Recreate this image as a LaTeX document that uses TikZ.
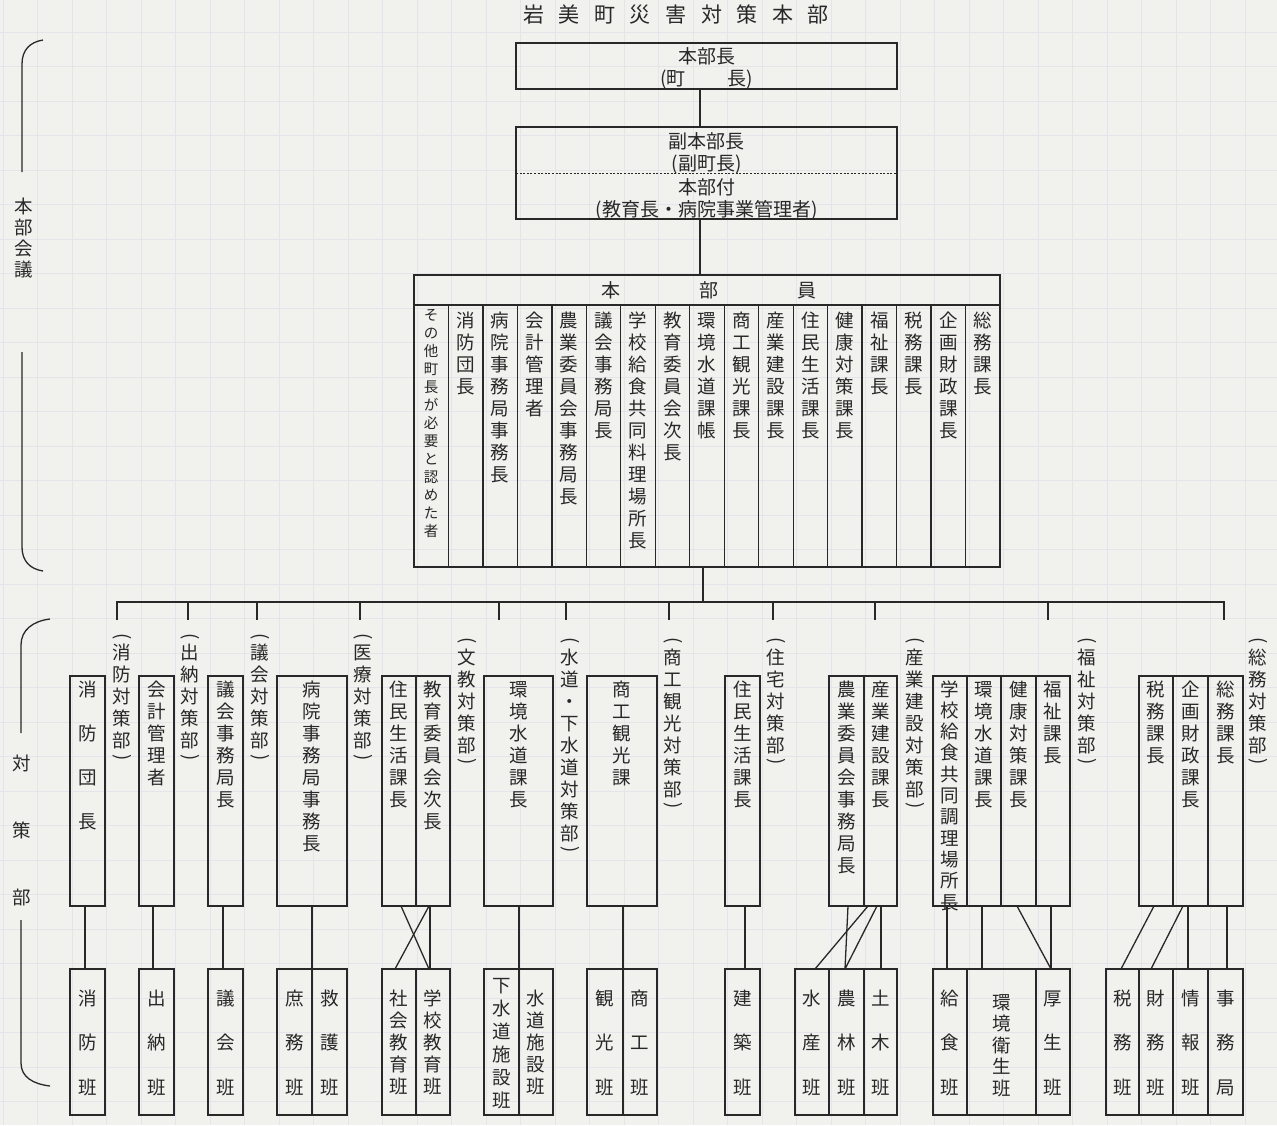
\documentclass[tikz,border=0pt]{standalone}
\usepackage{fontspec}
\usepackage{graphicx}
\setmainfont{Noto Sans CJK JP}
\usetikzlibrary{calc}
\definecolor{ink}{RGB}{40,40,40}
\definecolor{paper}{RGB}{241,241,238}
\definecolor{gridc}{RGB}{226,229,233}

\newdimen\vtpitch
\newcommand\vt[2]{\vtpitch=#1\relax\vbox{\offinterlineskip\expandafter\vtaux#2\relax}}
\def\vtaux#1{\ifx\relax#1\else\vtcell{#1}\expandafter\vtaux\fi}
\def\vtfull{\ht0=\dimexpr0.5\vtpitch+0.38em\relax\dp0=\dimexpr0.5\vtpitch-0.38em\relax}
\def\vtpar{\ht0=\dimexpr0.25\vtpitch+0.33em\relax\dp0=\dimexpr0.25\vtpitch-0.33em\relax}
\def\vtcell#1{%
  \ifx#1(\setbox0=\hbox to 1em{\hss\rotatebox[origin=c]{-90}{(}\hss}\vtpar
  \else\ifx#1)\setbox0=\hbox to 1em{\hss\rotatebox[origin=c]{-90}{)}\hss}\vtpar
  \else\setbox0=\hbox to 1em{\hss#1\hss}\vtfull\fi\fi\box0 }

\tikzset{
  conn/.style={draw=ink, line width=1.3pt},
  cbox/.style={draw=ink, line width=1.3pt, inner sep=0pt, outer sep=0pt, anchor=north west, rectangle},
  vlab/.style={anchor=north, inner sep=0pt, outer sep=0pt, text=ink, font=\fontsize{18.5}{22}\selectfont},
  htxt/.style={text=ink, font=\fontsize{19}{22}\selectfont, align=center, inner sep=0pt},
}
% name, x, y, w, h, first-centre offset, pitch, text
\newcommand\cb[8]{%
  \node[cbox, minimum width=#4pt, minimum height=#5pt] (#1) at (#2,#3) {};
  \node[vlab] (#1t) at ($(#1.north)+(0,{#6-#7/2})$) {\vt{#7pt}{#8}};}
\newcommand\tg{\hspace{14.6pt}}

\begin{document}
\begin{tikzpicture}[x=1pt,y=-1pt]
\useasboundingbox (0,0) rectangle (1277,1125);
\fill[paper] (0,0) rectangle (1277,1125);
\foreach \gx in {3,37.5,...,1277} \draw[gridc, line width=0.6pt] (\gx,0) -- (\gx,1125);
\foreach \gy in {32,66.5,...,1125} \draw[gridc, line width=0.6pt] (0,\gy) -- (1277,\gy);

% title
\node[htxt, font=\fontsize{21}{25}\selectfont] (title) at (676,15) {岩\tg{}美\tg{}町\tg{}災\tg{}害\tg{}対\tg{}策\tg{}本\tg{}部};

% top boxes
\node[cbox, minimum width=381pt, minimum height=46pt] (hq) at (516,43) {};
\node[htxt] (hqt) at ($(hq.center)+(0,2)$) {本部長\\(町\hspace{2.2em}長)};
\node[cbox, minimum width=381pt, minimum height=92pt] (dep) at (516,127) {};
\draw[draw=ink, line width=0.8pt, dash pattern=on 2pt off 1.6pt] (dep.west) -- (dep.east);
\node[htxt] (depa) at ($(dep.north)+(0,26)$) {副本部長\\(副町長)};
\node[htxt] (depb) at ($(dep.south)+(0,-19.5)$) {本部付\\(教育長・病院事業管理者)};

% members
\node[cbox, minimum width=586pt, minimum height=30pt] (memh) at (414,275) {};
\node[htxt] (memht) at ($(memh.center)+(1.5,0)$) {本\hspace{79pt}部\hspace{79pt}員};
\node[cbox, minimum width=34.47pt, minimum height=262pt] (m1) at (414,305) {};
\node[vlab, font=\fontsize{14.5}{18}\selectfont] (m1t) at ($(m1.north)+(0,1)$) {\vt{18pt}{その他町長が必要と認めた者}};
\cb{m2}{448.47}{305}{34.47}{262}{15}{22}{消防団長}
\cb{m3}{482.94}{305}{34.47}{262}{15}{22}{病院事務局事務長}
\cb{m4}{517.41}{305}{34.47}{262}{15}{22}{会計管理者}
\cb{m5}{551.88}{305}{34.47}{262}{15}{22}{農業委員会事務局長}
\cb{m6}{586.35}{305}{34.47}{262}{15}{22}{議会事務局長}
\cb{m7}{620.82}{305}{34.47}{262}{15}{22}{学校給食共同料理場所長}
\cb{m8}{655.29}{305}{34.47}{262}{15}{22}{教育委員会次長}
\cb{m9}{689.76}{305}{34.47}{262}{15}{22}{環境水道課帳}
\cb{m10}{724.24}{305}{34.47}{262}{15}{22}{商工観光課長}
\cb{m11}{758.71}{305}{34.47}{262}{15}{22}{産業建設課長}
\cb{m12}{793.18}{305}{34.47}{262}{15}{22}{住民生活課長}
\cb{m13}{827.65}{305}{34.47}{262}{15}{22}{健康対策課長}
\cb{m14}{862.12}{305}{34.47}{262}{15}{22}{福祉課長}
\cb{m15}{896.59}{305}{34.47}{262}{15}{22}{税務課長}
\cb{m16}{931.06}{305}{34.47}{262}{15}{22}{企画財政課長}
\cb{m17}{965.53}{305}{34.47}{262}{15}{22}{総務課長}

\draw[conn] ($(hq.south)+(-6.5,0)$) -- ($(dep.north)+(-6.5,0)$);
\draw[conn] ($(dep.south)+(-6.5,0)$) -- ($(memh.north)+(-7,0)$);

% bus
\coordinate (bus) at (703,602);
\foreach \i/\x in {1/117,2/188,3/257,4/360,5/499,6/566,7/669,8/773,9/875,10/1048,11/1224} {
  \coordinate (k\i) at (\x,602);
  \coordinate (e\i) at (\x,620);
}
\draw[conn] (m9.south -| bus) -- (bus);
\draw[conn] (e1) -- (k1) -- (k11) -- (e11);
\foreach \i in {2,...,10} \draw[conn] (k\i) -- (e\i);

% department labels
\node[vlab] (lab1) at (122,630.5) {\vt{22pt}{(消防対策部)}};
\node[vlab] (lab2) at (190,630.5) {\vt{22pt}{(出納対策部)}};
\node[vlab] (lab3) at (260,630.5) {\vt{22pt}{(議会対策部)}};
\node[vlab] (lab4) at (363,630.5) {\vt{22pt}{(医療対策部)}};
\node[vlab] (lab5) at (467,635) {\vt{22pt}{(文教対策部)}};
\node[vlab] (lab6) at (570,635) {\vt{22pt}{(水道・下水道対策部)}};
\node[vlab] (lab7) at (673,635) {\vt{22pt}{(商工観光対策部)}};
\node[vlab] (lab8) at (776,635) {\vt{22pt}{(住宅対策部)}};
\node[vlab] (lab9) at (915,635) {\vt{22pt}{(産業建設対策部)}};
\node[vlab] (lab10) at (1087,635) {\vt{22pt}{(福祉対策部)}};
\node[vlab] (lab11) at (1258,635) {\vt{22pt}{(総務対策部)}};

% upper boxes of the departments
\cb{U1}{70}{676}{35}{230}{13}{44}{消防団長}
\cb{U2}{139}{676}{35}{230}{13}{22}{会計管理者}
\cb{U3}{208}{676}{35}{230}{13}{22}{議会事務局長}
\cb{U4}{277}{676}{70}{230}{13}{22}{病院事務局事務長}
\cb{U5a}{382}{676}{34}{230}{13}{22}{住民生活課長}
\cb{U5b}{416}{676}{34}{230}{13}{22}{教育委員会次長}
\cb{U6}{484}{676}{69}{230}{13}{22}{環境水道課長}
\cb{U7}{587}{676}{70}{230}{13}{22}{商工観光課}
\cb{U8}{725}{676}{35}{230}{13}{22}{住民生活課長}
\cb{U9a}{829}{676}{35}{230}{13}{22}{農業委員会事務局長}
\cb{U9b}{864}{676}{33}{230}{13}{22}{産業建設課長}
\cb{U10a}{933}{676}{34}{230}{13}{21.3}{学校給食共同調理場所長}
\cb{U10b}{967}{676}{34}{230}{13}{22}{環境水道課長}
\cb{U10c}{1001}{676}{35}{230}{13}{22}{健康対策課長}
\cb{U10d}{1036}{676}{34}{230}{13}{22}{福祉課長}
\cb{U11a}{1139}{676}{34}{230}{13}{22}{税務課長}
\cb{U11b}{1173}{676}{35}{230}{13}{22}{企画財政課長}
\cb{U11c}{1208}{676}{35}{230}{13}{22}{総務課長}

% lower boxes (teams)
\cb{L1}{70}{969}{35}{146}{29}{44.5}{消防班}
\cb{L2}{139}{969}{35}{146}{29}{44.5}{出納班}
\cb{L3}{208}{969}{35}{146}{29}{44.5}{議会班}
\cb{L4a}{277}{969}{35}{146}{29}{44.5}{庶務班}
\cb{L4b}{312}{969}{35}{146}{29}{44.5}{救護班}
\cb{L5a}{382}{969}{34}{146}{29}{22}{社会教育班}
\cb{L5b}{416}{969}{34}{146}{29}{22}{学校教育班}
\cb{L6a}{484}{969}{35}{146}{16}{23}{下水道施設班}
\cb{L6b}{519}{969}{34}{146}{29}{22}{水道施設班}
\cb{L7a}{587}{969}{36}{146}{29}{44.5}{観光班}
\cb{L7b}{623}{969}{34}{146}{29}{44.5}{商工班}
\cb{L8}{725}{969}{35}{146}{29}{44.5}{建築班}
\cb{L9a}{795}{969}{34}{146}{29}{44.5}{水産班}
\cb{L9b}{829}{969}{35}{146}{29}{44.5}{農林班}
\cb{L9c}{864}{969}{33}{146}{29}{44.5}{土木班}
\cb{L10a}{933}{969}{34}{146}{29}{44.5}{給食班}
\cb{L10b}{967}{969}{69}{146}{33}{21.5}{環境衛生班}
\cb{L10c}{1036}{969}{34}{146}{29}{44.5}{厚生班}
\cb{L11a}{1106}{969}{33}{146}{29}{44.5}{税務班}
\cb{L11b}{1139}{969}{34}{146}{29}{44.5}{財務班}
\cb{L11c}{1173}{969}{35}{146}{29}{44.5}{情報班}
\cb{L11d}{1208}{969}{35}{146}{29}{44.5}{事務局}

% connectors between upper and lower boxes
\draw[conn] ($(U1.south west)+(15,0)$) -- ($(L1.north west)+(15,0)$);
\draw[conn] ($(U2.south west)+(14,0)$) -- ($(L2.north west)+(14,0)$);
\draw[conn] ($(U3.south west)+(15,0)$) -- ($(L3.north west)+(15,0)$);
\draw[conn] (U4.south -| L4a.north east) -- (L4a.north east);
\draw[conn] ($(U5a.south west)+(19,0)$) -- ($(L5b.north west)+(13,0)$);
\draw[conn] ($(U5b.south west)+(13,0)$) -- ($(L5a.north west)+(13,0)$);
\draw[conn] ($(U5b.south west)+(14,0)$) -- ($(L5b.north west)+(14,0)$);
\draw[conn] (U6.south -| L6a.north east) -- (L6a.north east);
\draw[conn] (U7.south -| L7a.north east) -- (L7a.north east);
\draw[conn] ($(U8.south west)+(20,0)$) -- ($(L8.north west)+(20,0)$);
\draw[conn] ($(U9a.south west)+(19,0)$) -- ($(L9b.north west)+(16,0)$);
\draw[conn] ($(U9b.south west)+(4,0)$) -- ($(L9a.north west)+(20,0)$);
\draw[conn] ($(U9b.south west)+(13,0)$) -- ($(L9b.north west)+(16,0)$);
\draw[conn] ($(U9b.south west)+(17,0)$) -- ($(L9c.north west)+(17,0)$);
\draw[conn] ($(U10a.south west)+(14,0)$) -- ($(L10a.north west)+(14,0)$);
\draw[conn] ($(U10b.south west)+(15,0)$) -- ($(L10b.north west)+(15,0)$);
\draw[conn] ($(U10c.south west)+(16,0)$) -- ($(L10c.north west)+(15,0)$);
\draw[conn] ($(U10d.south west)+(15,0)$) -- ($(L10c.north west)+(15,0)$);
\draw[conn] ($(U11a.south west)+(15,0)$) -- ($(L11a.north west)+(15,0)$);
\draw[conn] ($(U11b.south west)+(10,0)$) -- ($(L11b.north west)+(12,0)$);
\draw[conn] ($(U11b.south west)+(15,0)$) -- ($(L11c.north west)+(15,0)$);
\draw[conn] ($(U11c.south west)+(19,0)$) -- ($(L11d.north west)+(19,0)$);

% left braces
\draw[conn] (43,40) .. controls (30,42) and (22,50) .. (22,64) -- (22,172);
\draw[conn] (22,352) -- (22,547) .. controls (22,561) and (30,569) .. (43,571);
\node[vlab, anchor=center] (brace1) at (24,238) {\vt{21pt}{本部会議}};
\draw[conn] (50,619) .. controls (33,621) and (21,630) .. (21,645) -- (21,733);
\draw[conn] (21,920) -- (21,1063) .. controls (21,1077) and (33,1084) .. (50,1086);
\node[vlab, anchor=center] (brace2) at (22,830) {\vt{67pt}{対策部}};
\end{tikzpicture}
\end{document}
